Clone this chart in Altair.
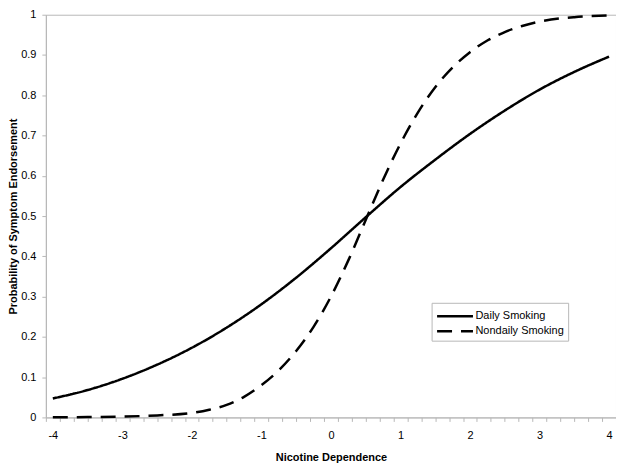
import altair as alt
import pandas as pd

# Values
x_daily = [-4, -3.5, -3, -2.5, -2, -1.5, -1, -0.5, 0, 0.5, 1, 1.5, 2, 2.5, 3, 3.5, 4]
y_daily = [0.047, 0.068, 0.096, 0.131, 0.173, 0.223, 0.281, 0.347, 0.420, 0.497,
           0.572, 0.640, 0.704, 0.762, 0.814, 0.858, 0.896]

x_nondaily = [-4, -3.5, -3, -2.5, -2, -1.75, -1.5, -1.25, -1, -0.75, -0.5, -0.25, 0,
              0.25, 0.5, 0.75, 1, 1.25, 1.5, 1.75, 2, 2.25, 2.5, 2.75, 3, 3.5, 4]
y_nondaily = [0.0003, 0.0008, 0.002, 0.005, 0.011, 0.019, 0.031, 0.051, 0.08, 0.117, 0.165,
              0.225, 0.30, 0.39, 0.49, 0.59, 0.68, 0.757, 0.82, 0.869, 0.907, 0.936,
              0.957, 0.972, 0.983, 0.994, 0.998]

series_names = ["Daily Smoking", "Nondaily Smoking"]

x_labels = [-4, -3, -2, -1, 0, 1, 2, 3, 4]
x_minor = [round(-4.1 + 0.2 * i, 1) for i in range(42)]
y_ticks = [round(0.1 * i, 1) for i in range(11)]

df = pd.concat([
    pd.DataFrame({"x": x_daily, "y": y_daily, "series": series_names[0]}),
    pd.DataFrame({"x": x_nondaily, "y": y_nondaily, "series": series_names[1]}),
])

FONT = "Liberation Sans"
GRAY = "#b8b8b8"
IS_INT = "abs(datum.value - round(datum.value)) < 0.001"

x_axis = alt.Axis(
    title="Nicotine Dependence",
    values=sorted(set(x_minor + x_labels)),
    labelExpr=IS_INT + " ? toString(round(datum.value)) : ''",
    tickOpacity={"condition": {"test": IS_INT, "value": 0}, "value": 1},
    labelOverlap=False,
    labelFlush=False,
    grid=False,
    domainColor=GRAY,
    tickColor=GRAY,
    tickSize=4,
    labelPadding=8,
    titlePadding=11,
)

y_axis = alt.Axis(
    title="Probability of Symptom Endorsement",
    values=y_ticks,
    labelExpr="toString(datum.value)",
    labelOverlap=False,
    labelFlush=False,
    grid=False,
    domainColor=GRAY,
    tickColor=GRAY,
    tickSize=4,
    labelPadding=6,
    titlePadding=2,
)

chart = alt.Chart(df).mark_line(color="black", strokeWidth=2.5, interpolate="monotone").encode(
    x=alt.X("x:Q", scale=alt.Scale(domain=[-4.1, 4.1], nice=False, zero=False), axis=x_axis),
    y=alt.Y("y:Q", scale=alt.Scale(domain=[0, 1], nice=False), axis=y_axis),
    strokeDash=alt.StrokeDash(
        "series:N",
        scale=alt.Scale(domain=series_names, range=[[1, 0], [15, 9]]),
        legend=alt.Legend(
            title=None,
            orient="none",
            legendX=387,
            legendY=289,
            symbolType="M-2.25,0H2.25",
            symbolSize=256,
            symbolOffset=10,
            symbolStrokeWidth=2.5,
            symbolStrokeColor="black",
            symbolFillColor="transparent",
            labelFont=FONT,
            labelFontSize=11,
            labelColor="black",
            fillColor="white",
            strokeColor=GRAY,
            padding=4,
            rowPadding=0,
            labelOffset=11,
        ),
    ),
    detail="series:N",
).properties(
    width=572,
    height=404,
    autosize=alt.AutoSizeParams(type="none"),
    padding={"left": 38, "top": 6, "right": 0, "bottom": 50},
).configure_view(
    stroke=GRAY,
).configure_axis(
    labelFont=FONT,
    labelFontSize=11,
    labelColor="black",
    titleFont=FONT,
    titleFontSize=11,
    titleFontWeight="bold",
    titleColor="black",
)

chart.save("out.html", embed_options={"renderer": "svg", "actions": False})
